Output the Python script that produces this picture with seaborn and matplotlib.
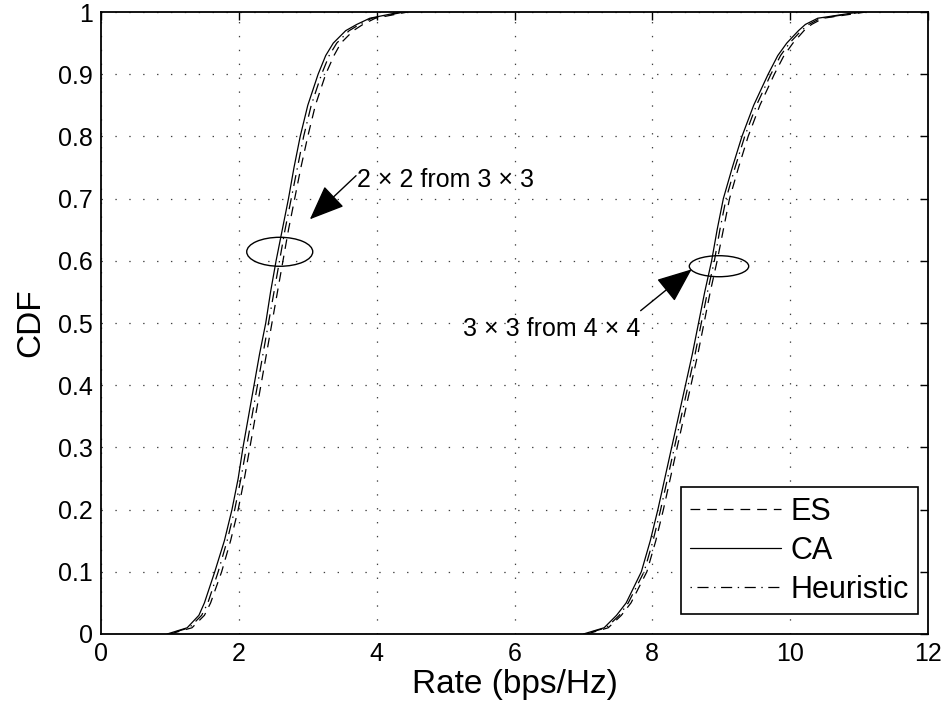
import numpy as np
import pandas as pd
import matplotlib
matplotlib.use("Agg")
import matplotlib.pyplot as plt
import seaborn as sns
from matplotlib.patches import Ellipse
from matplotlib.lines import Line2D

# ---------------- data (quantiles) ----------------
cdf_levels = [0, 0.01, 0.03, 0.05, 0.1, 0.15, 0.2, 0.25, 0.3, 0.35, 0.4, 0.45,
              0.5, 0.55, 0.6, 0.65, 0.7, 0.75, 0.8, 0.85, 0.9, 0.93, 0.95,
              0.97, 0.98, 0.99, 1.0]

# 2x2 from 3x3
es_2of3 = [1.00, 1.32, 1.50, 1.59, 1.75, 1.88, 1.99, 2.08, 2.16, 2.24, 2.32, 2.40,
           2.48, 2.56, 2.64, 2.72, 2.81, 2.90, 3.00, 3.11, 3.26, 3.38, 3.48,
           3.66, 3.80, 3.98, 4.45]
ca_2of3 = [0.96, 1.25, 1.42, 1.50, 1.65, 1.79, 1.90, 1.99, 2.06, 2.14, 2.22, 2.30,
           2.39, 2.46, 2.54, 2.63, 2.72, 2.80, 2.89, 3.00, 3.15, 3.26, 3.37,
           3.55, 3.71, 3.90, 4.35]
heur_2of3 = [0.98, 1.28, 1.46, 1.55, 1.70, 1.83, 1.94, 2.03, 2.11, 2.19, 2.27, 2.35,
             2.43, 2.51, 2.59, 2.67, 2.76, 2.85, 2.94, 3.05, 3.20, 3.31, 3.42,
             3.60, 3.75, 3.93, 4.40]

# 3x3 from 4x4
es_3of4 = [7.05, 7.36, 7.55, 7.69, 7.92, 8.05, 8.16, 8.26, 8.36, 8.46, 8.56, 8.66,
           8.75, 8.84, 8.94, 9.03, 9.12, 9.25, 9.39, 9.56, 9.77, 9.91, 10.04,
           10.20, 10.31, 10.48, 11.10]
ca_3of4 = [7.00, 7.30, 7.48, 7.62, 7.84, 7.97, 8.08, 8.18, 8.28, 8.38, 8.48, 8.58,
           8.67, 8.76, 8.86, 8.94, 9.03, 9.16, 9.30, 9.47, 9.68, 9.82, 9.95,
           10.12, 10.22, 10.40, 11.00]
heur_3of4 = [7.02, 7.33, 7.52, 7.65, 7.88, 8.01, 8.12, 8.22, 8.32, 8.42, 8.52, 8.62,
             8.71, 8.80, 8.90, 8.98, 9.07, 9.20, 9.34, 9.51, 9.72, 9.86, 9.99,
             10.16, 10.27, 10.44, 11.05]

methods = ["ES", "CA", "Heuristic"]
x_ticks = [0, 2, 4, 6, 8, 10, 12]
y_ticks = [0, 0.1, 0.2, 0.3, 0.4, 0.5, 0.6, 0.7, 0.8, 0.9, 1]
y_tick_labels = ["0", "0.1", "0.2", "0.3", "0.4", "0.5", "0.6", "0.7", "0.8", "0.9", "1"]

series = {
    ("ES", "2of3"): es_2of3, ("CA", "2of3"): ca_2of3, ("Heuristic", "2of3"): heur_2of3,
    ("ES", "3of4"): es_3of4, ("CA", "3of4"): ca_3of4, ("Heuristic", "3of4"): heur_3of4,
}
rows = []
for (m, g), xs in series.items():
    for xv, yv in zip(xs, cdf_levels):
        rows.append({"rate": xv, "cdf": yv, "method": m, "group": g})
df = pd.DataFrame(rows)

# ---------------- style ----------------
sns.set_theme(style="white")
plt.rcParams["font.family"] = ["Liberation Sans", "DejaVu Sans"]
plt.rcParams["lines.scale_dashes"] = False
plt.rcParams["text.color"] = "black"
plt.rcParams["axes.labelcolor"] = "black"
plt.rcParams["xtick.color"] = "black"
plt.rcParams["ytick.color"] = "black"

styles = {
    "ES": (0, (7, 5)),
    "CA": "-",
    "Heuristic": (0, (1, 4, 8, 4)),
}

fig = plt.figure(figsize=(9.46, 7.15), dpi=100)
ax = fig.add_axes([0.1068, 0.1133, 0.8742, 0.8699])

for m in methods:
    for g in ["2of3", "3of4"]:
        sub = df[(df.method == m) & (df.group == g)]
        sns.lineplot(data=sub, x="rate", y="cdf", ax=ax, sort=False,
                     estimator=None, color="black", linewidth=0.9,
                     linestyle=styles[m], legend=False)

ax.set_xlim(0, 12)
ax.set_ylim(0, 1)
ax.set_xticks(x_ticks)
ax.set_xticklabels([str(v) for v in x_ticks])
ax.set_yticks(y_ticks)
ax.set_yticklabels(y_tick_labels)
ax.tick_params(direction="in", length=6, width=1, top=True, right=True,
               labelsize=18, pad=6, colors="black")
for s in ax.spines.values():
    s.set_visible(True)
    s.set_color("black")
    s.set_linewidth(1.3)
ax.grid(True, linestyle=(0, (1, 9)), color="0.25", linewidth=0.9)
ax.set_xlabel("Rate (bps/Hz)", fontsize=24, labelpad=2, color="black")
ax.set_ylabel("CDF", fontsize=24, labelpad=8, color="black")

# annotations
ax.add_patch(Ellipse((2.593, 0.6145), 0.958, 0.0466, fill=False,
                     edgecolor="black", linewidth=1.0, zorder=5))
ax.add_patch(Ellipse((8.967, 0.5913), 0.862, 0.0338, fill=False,
                     edgecolor="black", linewidth=1.0, zorder=5))
arrow_kw = dict(arrowstyle="-|>,head_length=1.1,head_width=0.45", color="black",
                linewidth=1.0, shrinkA=0, shrinkB=0, mutation_scale=20)
ax.annotate("", xy=(3.03, 0.6667), xytext=(3.70, 0.7368), arrowprops=arrow_kw)
ax.annotate("", xy=(8.57, 0.5863), xytext=(7.83, 0.5198), arrowprops=arrow_kw)
ax.text(3.71, 0.73, "2 × 2 from 3 × 3", fontsize=18, ha="left", va="center", color="black")
ax.text(7.83, 0.49, "3 × 3 from 4 × 4", fontsize=18, ha="right", va="center", color="black")

handles = [Line2D([], [], color="black", linewidth=0.9, linestyle=styles[m]) for m in methods]
leg = ax.legend(handles, methods, loc="lower right", bbox_to_anchor=(0.988, 0.032),
                borderaxespad=0, fontsize=22, frameon=True, fancybox=False,
                edgecolor="black", framealpha=1, handlelength=3.0,
                handletextpad=0.3, labelspacing=0.3, borderpad=0.3)
leg.get_frame().set_linewidth(1.2)
for t in leg.get_texts():
    t.set_color("black")

fig.savefig("out.png", dpi=100)
